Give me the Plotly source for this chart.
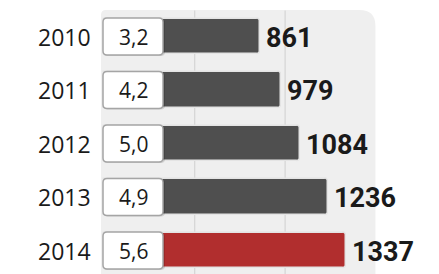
import plotly.graph_objects as go

years = ["2010", "2011", "2012", "2013", "2014"]
values = [861, 979, 1084, 1236, 1337]
box_labels = ["3,2", "4,2", "5,0", "4,9", "5,6"]
bar_colors = ["#4f4f4f", "#4f4f4f", "#4f4f4f", "#4f4f4f", "#b12e2e"]
grid_values = [500, 1000]
panel_max = 1500

W, H = 439, 274
X0, SX = 104.4, 0.1807          # pixel of value 0, pixels per unit
ROW0, ROWH = 36.5, 53.5         # pixel center of first row, row pitch

xr = [-X0 / SX, (W - X0) / SX]
yr = [(H - ROW0) / ROWH, -ROW0 / ROWH]

def px(p):
    return p / W

def py(p):
    return 1 - p / H

def rrect(x0, y0, x1, y1, r):
    return (f"M {px(x0+r)},{py(y0)} L {px(x1-r)},{py(y0)} Q {px(x1)},{py(y0)} {px(x1)},{py(y0+r)} "
            f"L {px(x1)},{py(y1-r)} Q {px(x1)},{py(y1)} {px(x1-r)},{py(y1)} "
            f"L {px(x0+r)},{py(y1)} Q {px(x0)},{py(y1)} {px(x0)},{py(y1-r)} "
            f"L {px(x0)},{py(y0+r)} Q {px(x0)},{py(y0)} {px(x0+r)},{py(y0)} Z")

yidx = list(range(len(years)))

fig = go.Figure()
fig.add_trace(go.Bar(
    x=values, y=yidx, orientation="h", width=0.66,
    marker=dict(color=bar_colors, line=dict(color="#e4e4e4", width=1.5), cornerradius=3),
    hoverinfo="skip",
))

shapes = []
panel_right = X0 + SX * panel_max
shapes.append(dict(type="path", xref="paper", yref="paper", layer="below",
                   path=(f"M {px(101)},{py(290)} L {px(101)},{py(15)} Q {px(101)},{py(10)} {px(106)},{py(10)} "
                         f"L {px(panel_right-16)},{py(10)} Q {px(panel_right)},{py(10)} {px(panel_right)},{py(26)} "
                         f"L {px(panel_right)},{py(290)} Z"),
                   fillcolor="#efefef", line=dict(width=0)))
for g in grid_values:
    shapes.append(dict(type="line", xref="x", yref="paper", layer="below",
                       x0=g, x1=g, y0=0, y1=py(10.5),
                       line=dict(color="#cfcfcf", width=1)))

annotations = []
for i, (yr_lbl, v, bl) in enumerate(zip(years, values, box_labels)):
    cy = ROW0 + ROWH * i
    shapes.append(dict(type="path", xref="paper", yref="paper",
                       path=rrect(104, cy - 17.5, 165, cy + 19.5, 4),
                       fillcolor="rgba(0,0,0,0.12)", line=dict(width=0)))
    shapes.append(dict(type="path", xref="paper", yref="paper",
                       path=rrect(103, cy - 18.5, 163, cy + 18.5, 4),
                       fillcolor="#ffffff", line=dict(color="#a5a5a5", width=1.5)))
    annotations.append(dict(xref="paper", yref="y", x=px(93), y=i, text=yr_lbl,
                            xanchor="right", yanchor="middle", showarrow=False,
                            font=dict(family="Open Sans", size=23, color="#1a1a1a")))
    annotations.append(dict(xref="paper", yref="y", x=px(133.5), y=i, text=bl,
                            xanchor="center", yanchor="middle", showarrow=False,
                            font=dict(family="Open Sans", size=21, color="#1a1a1a")))
    annotations.append(dict(xref="x", yref="y", x=v, y=i, text=f"<b>{v}</b>",
                            xanchor="left", yanchor="middle", showarrow=False, xshift=4, yshift=-1,
                            font=dict(family="Roboto", size=27, color="#1a1a1a")))

fig.update_layout(
    width=W, height=H, margin=dict(l=0, r=0, t=0, b=0),
    paper_bgcolor="#ffffff", plot_bgcolor="rgba(0,0,0,0)",
    showlegend=False, shapes=shapes, annotations=annotations,
    xaxis=dict(range=xr, visible=False, fixedrange=True),
    yaxis=dict(range=yr, visible=False, fixedrange=True),
    bargap=0,
)
fig.write_html("out.html", config={"displayModeBar": False})
